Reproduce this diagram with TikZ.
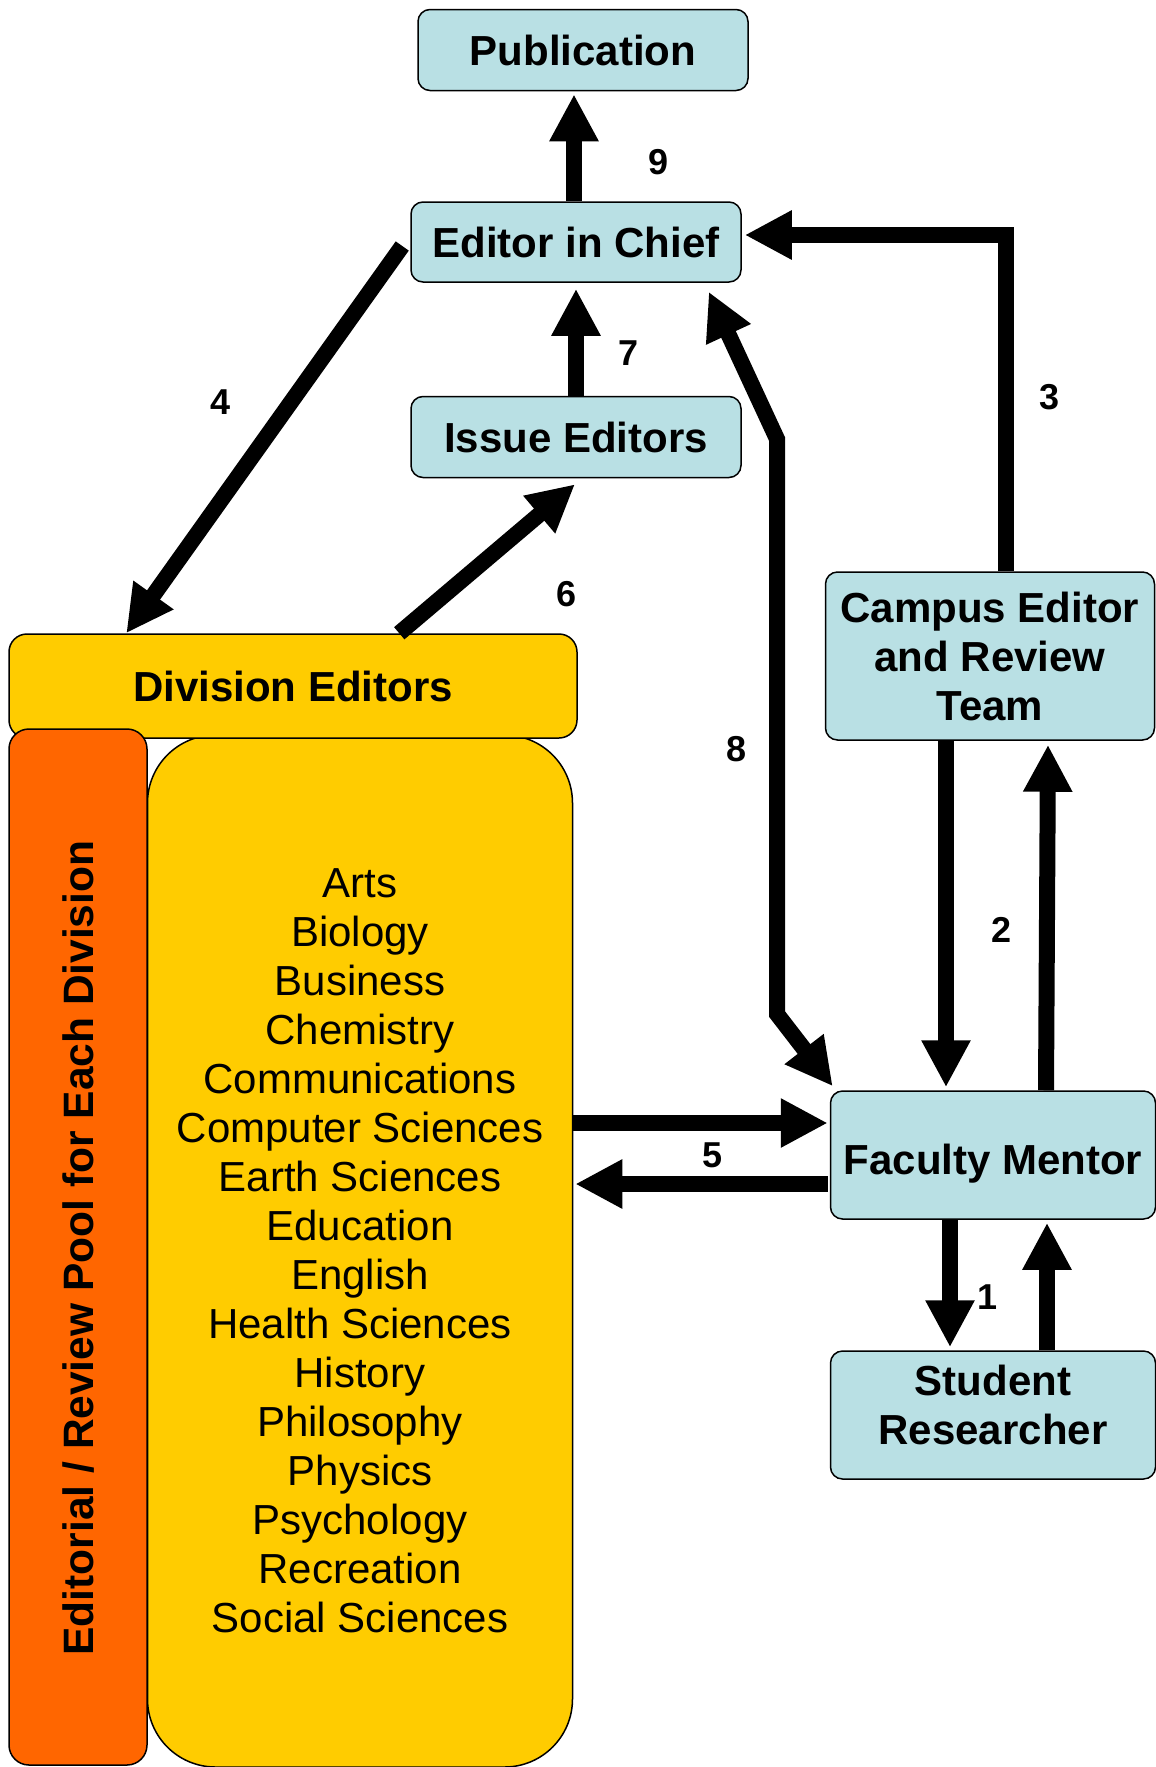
\documentclass[tikz,border=0pt]{standalone}
\usepackage{fontspec}
\setmainfont{Liberation Sans}
\usetikzlibrary{arrows.meta,calc}
\definecolor{boxblue}{RGB}{185,224,228}
\definecolor{divyellow}{RGB}{255,204,0}
\definecolor{poolorange}{RGB}{255,102,0}
\begin{document}
\begin{tikzpicture}[x=1pt,y=-1pt,
  mytip/.tip={Triangle[width=46pt,length=47pt]},
  bluebox/.style={draw=black,line width=1.5pt,fill=boxblue,rounded corners=12pt,inner sep=0pt,align=center,font=\fontsize{42}{49}\selectfont\bfseries},
  flow/.style={line width=16pt,-mytip,line join=miter},
  flowtwo/.style={line width=16pt,mytip-mytip,line join=miter},
  num/.style={font=\fontsize{36}{40}\selectfont\bfseries,inner sep=0pt}]
\useasboundingbox (0,0) rectangle (1156,1767);
% boxes
\node[bluebox,minimum width=330pt,minimum height=81pt] (pub) at (583,50) {Publication};
\node[bluebox,minimum width=330pt,minimum height=80pt] (ec) at (576,242) {Editor in Chief};
\node[bluebox,minimum width=330pt,minimum height=81pt] (ie) at (576,437) {Issue Editors};
\node[bluebox,minimum width=329pt,minimum height=168pt] (ce) at (990,656) {Campus Editor\\and Review\\Team};
\node[bluebox,minimum width=325pt,minimum height=128pt] (fm) at (993,1155) {\rule{0pt}{47pt}Faculty Mentor};
\node[bluebox,minimum width=325pt,minimum height=128pt] (sr) at (993,1415) {Student\\Researcher\rule[-20pt]{0pt}{0pt}};
\node[draw=black,line width=1.5pt,fill=divyellow,rounded corners=68pt,minimum width=425pt,minimum height=1032pt,inner sep=0pt,align=center,font=\fontsize{42}{49}\selectfont] (yb) at (360,1251)
 {Arts\\Biology\\Business\\Chemistry\\Communications\\Computer Sciences\\Earth Sciences\\Education\\English\\Health Sciences\\History\\Philosophy\\Physics\\Psychology\\Recreation\\Social Sciences};
\node[draw=black,line width=1.5pt,fill=divyellow,rounded corners=18pt,minimum width=568pt,minimum height=104pt,inner sep=0pt,font=\fontsize{42}{49}\selectfont\bfseries] (de) at (293,686) {Division Editors};
\node[draw=black,line width=1.5pt,fill=poolorange,rounded corners=20pt,minimum width=138pt,minimum height=1036pt,inner sep=0pt] (ob) at (78,1247) {};
\node[rotate=90,font=\fontsize{42.5}{48}\selectfont\bfseries,inner sep=0pt] (pooltxt) at (79,1248) {Editorial / Review Pool for Each Division};
% arrows
\draw[flow] ([xshift=-2pt]ec.north) -- ($(ec.north |- pub.south)+(-2,3)$);
\draw[flow] (ie.north) -- ($(ie.north |- ec.south)+(0,6)$);
\draw[flow] ($(ec.west)+(-8,4)$) -- ($(de.north west)+(118,0)$);
\draw[flow] ($(de.north west)+(391,0)$) -- ($(ie.south)+(-1,6)$);
\draw[flow] ($(ce.north)+(16,0)$) |- ($(ec.east)+(3,-7)$);
\coordinate (b1) at (777,439);
\coordinate (b2) at (777,1014);
\draw[flowtwo] ($(ec.south east)+(-33,9)$) -- (b1) -- (b2) -- ($(fm.north west)+(3,-4)$);
\draw[flow] ($(ce.south)+(-44,0)$) -- ($(fm.north)+(-47,-3)$);
\draw[flow] ($(fm.north)+(53,0)$) -- ($(ce.south)+(58,4)$);
\coordinate (r5) at ($(fm.west)+(-2,-32)$);
\coordinate (l5) at ($(fm.west)+(-2,29)$);
\draw[flow] (yb.east |- r5) -- (r5);
\draw[flow] (l5) -- ($(yb.east |- l5)+(2,0)$);
\draw[flow] ($(fm.south)+(-43,0)$) -- ($(sr.north)+(-43,-3)$);
\draw[flow] ($(sr.north)+(54,0)$) -- ($(fm.south)+(54,3)$);
% labels
\node[num] (n9) at (659,162) {9};
\node[num] (n7) at (629,353) {7};
\node[num] (n4) at (221,402) {4};
\node[num] (n6) at (567,594) {6};
\node[num] (n3) at (1049,397) {3};
\node[num] (n8) at (737,749) {8};
\node[num] (n2) at (1001,930) {2};
\node[num] (n5) at (713,1155) {5};
\node[num] (n1) at (987,1297) {1};
\end{tikzpicture}
\end{document}
